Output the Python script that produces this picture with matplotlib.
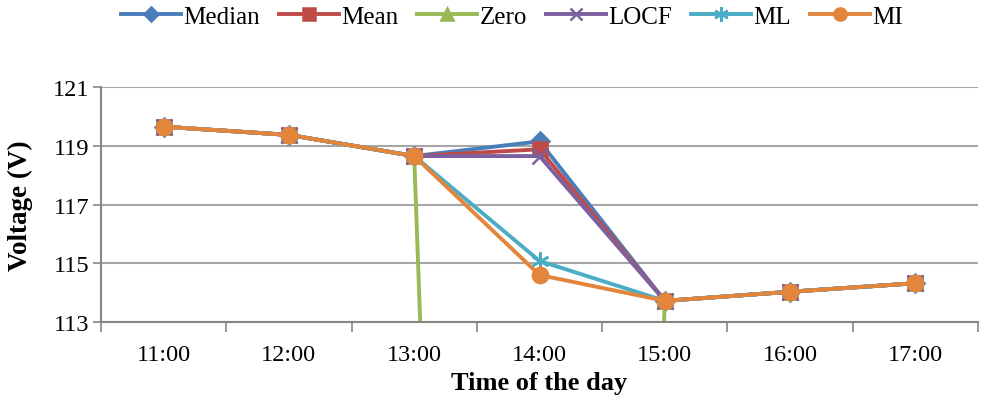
import matplotlib.pyplot as plt
from matplotlib.lines import Line2D

times = ['11:00', '12:00', '13:00', '14:00', '15:00', '16:00', '17:00']
median = [119.65, 119.37, 118.65, 119.15, 113.72, 114.03, 114.32]
mean = [119.65, 119.37, 118.65, 118.88, 113.72, 114.03, 114.32]
zero = [119.65, 119.37, 118.65, 0.0, 113.72, 114.03, 114.32]
locf = [119.65, 119.37, 118.65, 118.65, 113.72, 114.03, 114.32]
ml = [119.65, 119.37, 118.65, 115.08, 113.72, 114.03, 114.32]
mi = [119.65, 119.37, 118.65, 114.60, 113.72, 114.03, 114.32]

plt.rcParams['font.family'] = ['Liberation Serif', 'DejaVu Serif']

fig = plt.figure(figsize=(9.84, 4.02), dpi=100)
ax = fig.add_axes([0.1026, 0.1965, 0.8914, 0.5845])

x = list(range(len(times)))
series = [
    ('Median', median, '#4A7EBB', 'D', 9),
    ('Mean', mean, '#BE4B48', 's', 10),
    ('Zero', zero, '#98B954', '^', 10),
    ('LOCF', locf, '#7D60A0', 'x', 11),
    ('ML', ml, '#4BACC6', (6, 2, 0), 13),
    ('MI', mi, '#E3853B', 'o', 11),
]
handles = []
for name, vals, col, mk, ms in series:
    ax.plot(x, vals, color=col, lw=2.8, marker=mk, ms=ms,
            mec=col, mfc=col, mew=1.8)
    handles.append(Line2D([], [], color=col, lw=2.8, marker=mk, ms=ms * 0.8,
                          mec=col, mfc=col, mew=1.8))

ax.set_xlim(-0.5, 6.5)
ax.set_ylim(113, 121)
ax.set_yticks([113, 115, 117, 119, 121])
ax.set_xticks(x)
ax.set_xticklabels(times)
ax.set_xticks([i - 0.5 for i in range(8)], minor=True)
ax.tick_params(axis='x', which='major', length=0, labelsize=17.5, pad=16)
ax.tick_params(axis='x', which='minor', length=7, color='#868686', width=1.2)
ax.tick_params(axis='y', length=6, color='#868686', width=1.2,
               labelsize=17.5, pad=2)
ax.grid(axis='y', color='#A6A6A6', lw=1.5)
ax.set_axisbelow(True)
for s in ['top', 'right']:
    ax.spines[s].set_visible(False)
for s in ['left', 'bottom']:
    ax.spines[s].set_color('#868686')
    ax.spines[s].set_linewidth(1.5)

ax.set_ylabel('Voltage (V)', fontsize=19.5, fontweight='bold', labelpad=15)
ax.set_xlabel('Time of the day', fontsize=19, fontweight='bold', labelpad=4)

fig.legend(handles, [s[0] for s in series], loc='upper left',
           bbox_to_anchor=(0.1, 1.04), ncol=6, frameon=False,
           fontsize=18, handlelength=2.4, handletextpad=0.1,
           columnspacing=0.75)

fig.savefig('out.png', dpi=100)
